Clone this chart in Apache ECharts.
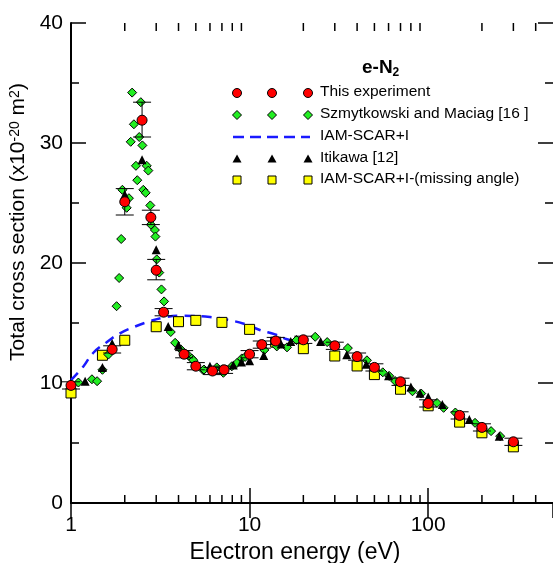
<!DOCTYPE html>
<html><head><meta charset="utf-8">
<script src="https://cdn.jsdelivr.net/npm/echarts@6/dist/echarts.min.js"></script>
<style>html,body{margin:0;padding:0;background:#fff}#c{width:553px;height:563px}</style>
</head><body><div id="c"></div>
<script>
// This experiment (red circles) with error bars
const expE  = [1.0, 1.7, 2.0, 2.5, 2.8, 3.0, 3.3, 4.3, 5.0, 6.2, 7.2, 10, 11.7, 14, 20, 30, 40, 50, 70, 100, 150, 200, 300];
const expS  = [9.8, 12.8, 25.1, 31.9, 23.8, 19.4, 15.9, 12.4, 11.4, 11.0, 11.1, 12.4, 13.2, 13.5, 13.6, 13.1, 12.2, 11.3, 10.1, 8.3, 7.3, 6.3, 5.1];
const expLo = [9.5, 12.5, 24.0, 30.5, 23.2, 18.6, 15.6, 12.1, 11.1, 10.7, 10.8, 12.1, 12.9, 13.2, 13.3, 12.8, 11.9, 11.0, 9.8, 8.0, 7.0, 6.0, 4.8];
const expHi = [10.1, 13.1, 26.2, 33.4, 24.4, 20.3, 16.2, 12.7, 11.7, 11.3, 11.4, 12.7, 13.5, 13.8, 13.9, 13.4, 12.5, 11.6, 10.4, 8.6, 7.6, 6.6, 5.4];

// Szmytkowski and Maciag [16] (green diamonds)
const szE = [1.1, 1.31, 1.4, 1.5, 1.62, 1.8, 1.86, 1.91, 1.94, 2.05, 2.11, 2.16, 2.2, 2.25, 2.31, 2.35, 2.41, 2.46, 2.51, 2.54, 2.62, 2.655, 2.71, 2.78, 2.8, 2.95, 2.97, 3.02, 3.12, 3.21, 3.32, 3.62, 3.83, 4.12, 4.54, 4.75, 4.84, 5.51, 5.56, 6.55, 7.04, 7.13, 7.95, 8.5, 9.05, 9.44, 12.1, 14.2, 16.2, 18.3, 23.3, 27.2, 35.5, 45.4, 55.7, 60.5, 65.3, 81.7, 91.4, 112, 122, 142, 183, 225, 253];
const szS = [10.04, 10.31, 10.15, 11.1, 12.37, 16.4, 18.75, 22.0, 26.1, 24.6, 25.4, 30.1, 34.2, 31.56, 28.1, 26.9, 30.5, 33.4, 29.8, 26.1, 25.85, 28.1, 27.7, 24.8, 23.2, 22.75, 22.2, 20.3, 19.2, 17.8, 16.8, 14.25, 13.35, 12.8, 12.3, 12.03, 11.9, 11.06, 11.12, 11.3, 11.14, 10.85, 11.39, 11.67, 12.05, 12.17, 12.75, 13.05, 12.97, 13.58, 13.85, 13.41, 12.91, 11.89, 10.89, 10.59, 10.17, 9.31, 9.12, 8.34, 7.93, 7.54, 6.68, 5.99, 5.57];

// Itikawa [12] (black triangles)
const itE = [1.2, 1.5, 1.7, 2.0, 2.5, 3.0, 3.5, 4.0, 6.0, 8.1, 9.0, 10, 12, 15, 17, 25, 35, 45, 60, 80, 90, 100, 120, 170, 250];
const itS = [10.15, 11.3, 13.3, 25.7, 28.6, 21.1, 14.7, 13.15, 11.39, 11.5, 11.75, 11.85, 12.3, 13.25, 13.45, 13.45, 12.35, 11.56, 10.6, 9.67, 9.15, 8.84, 8.21, 6.96, 5.57];

// IAM-SCAR+I (blue dashed)
const iamE = [1.0, 1.17, 1.33, 1.57, 1.88, 2.28, 2.71, 3.29, 4.08, 4.84, 6.0, 7.8, 9.44, 11.5, 13.9, 16.2, 18];
const iamS = [10.25, 11.36, 12.5, 13.36, 14.14, 14.7, 15.1, 15.45, 15.6, 15.58, 15.5, 15.22, 14.9, 14.4, 14.05, 13.65, 13.5];

// IAM-SCAR+I-(missing angle) (yellow squares)
const missE = [1, 1.5, 2, 3, 4, 5, 7, 10, 14, 20, 30, 40, 50, 70, 100, 150, 200, 300];
const missS = [9.17, 12.31, 13.56, 14.69, 15.11, 15.22, 15.05, 14.47, 13.4, 12.86, 12.25, 11.42, 10.7, 9.48, 8.1, 6.74, 5.85, 4.68];

// minor tick positions of the log energy axis
const xMinorTicks = [2,3,4,5,6,7,8,9,20,30,40,50,60,70,80,90,200,300,400];

const legendNames = ['This experiment', 'Szmytkowski and Maciag [16 ]', 'IAM-SCAR+I', 'Itikawa [12]', 'IAM-SCAR+I-(missing angle)'];

const FONT = '"Liberation Sans", Arial, sans-serif';
const zip = (a, b) => a.map((v, i) => [v, b[i]]);

const chart = echarts.init(document.getElementById('c'), null, {renderer: 'canvas'});

const axisLineStyle = {color: '#000', width: 2};
const xCommon = {
  type: 'log', logBase: 10, min: 1, max: 500,
  axisLine: {show: true, lineStyle: axisLineStyle},
  axisTick: {show: true, inside: true, length: 15, lineStyle: {color: '#000', width: 1.5}},
  minorTick: {show: false},
  splitLine: {show: false}, minorSplitLine: {show: false}
};
const yCommon = {
  type: 'value', min: 0, max: 40, interval: 10,
  axisTick: {show: true, inside: true, length: 15, lineStyle: {color: '#000', width: 1.5}},
  minorTick: {show: true, splitNumber: 2, length: 8, lineStyle: {color: '#000', width: 1.5}},
  splitLine: {show: false}, minorSplitLine: {show: false}
};

// legend graphics
const lgY = [93, 115, 137, 159, 180];
const lgX = [237, 272, 308];
const g = [];
g.push({type: 'text', left: 362, top: 58, style: {
  text: '{b|e-N}{s|2}', rich: {
    b: {fontFamily: FONT, fontWeight: 'bold', fontSize: 19, fill: '#000', lineHeight: 22},
    s: {fontFamily: FONT, fontWeight: 'bold', fontSize: 12, fill: '#000', verticalAlign: 'bottom', lineHeight: 14}
  }}});
lgX.forEach(x => {
  g.push({type: 'circle', shape: {cx: x, cy: lgY[0], r: 4.5}, style: {fill: '#ff0000', stroke: '#000', lineWidth: 1}});
  g.push({type: 'polygon', shape: {points: [[x, lgY[1]-4.5], [x+4.5, lgY[1]], [x, lgY[1]+4.5], [x-4.5, lgY[1]]]}, style: {fill: '#22ee22', stroke: '#000', lineWidth: 1}});
  g.push({type: 'polygon', shape: {points: [[x, lgY[3]-4.5], [x+4.5, lgY[3]+3.5], [x-4.5, lgY[3]+3.5]]}, style: {fill: '#000'}});
  g.push({type: 'rect', shape: {x: x-4, y: lgY[4]-4, width: 8, height: 8}, style: {fill: '#ffff00', stroke: '#000', lineWidth: 1}});
});
g.push({type: 'line', shape: {x1: 233, y1: lgY[2], x2: 310, y2: lgY[2]}, style: {stroke: '#1a1aff', lineWidth: 2.5, lineDash: [11, 6]}});
legendNames.forEach((t, i) => {
  g.push({type: 'text', left: 320, top: lgY[i] - 9, style: {text: t, fontFamily: FONT, fontSize: 15.5, fill: '#000'}});
});

chart.setOption({
  animation: false,
  backgroundColor: '#fff',
  grid: {left: 71, right: 0, top: 23, bottom: 60, containLabel: false, outerBoundsMode: 'none'},
  xAxis: [
    Object.assign({}, xCommon, {
      position: 'bottom',
      axisLabel: {show: true, fontSize: 21, color: '#000', fontFamily: FONT, margin: 12, showMaxLabel: false},
      name: 'Electron energy (eV)', nameLocation: 'middle', nameGap: 34,
      nameTextStyle: {fontSize: 23, color: '#000', fontFamily: FONT, padding: [0, 34, 0, 0]}
    }),
    Object.assign({}, xCommon, {position: 'top', axisLabel: {show: false}})
  ],
  yAxis: [
    Object.assign({}, yCommon, {
      position: 'left',
      axisLine: {show: true, lineStyle: axisLineStyle},
      axisLabel: {show: true, fontSize: 21, color: '#000', fontFamily: FONT, margin: 8},
      name: 'Total cross section (x10{sup|-20} m{sup|2})', nameLocation: 'middle', nameGap: 32,
      nameTextStyle: {fontSize: 21, color: '#000', fontFamily: FONT, padding: [0, 0, 0, 82],
        rich: {
          sup: {fontSize: 14, fontFamily: FONT, color: '#000', verticalAlign: 'top', lineHeight: 14, padding: 0}
        }}
    }),
    Object.assign({}, yCommon, {
      position: 'right',
      axisLine: {show: false},
      axisLabel: {show: false}
    })
  ],
  graphic: g,
  series: [
    {
      type: 'custom', name: 'minorTicks', xAxisIndex: 0, yAxisIndex: 0, silent: true, clip: false, z: 1,
      data: xMinorTicks.map(v => [v, 0]),
      renderItem: (params, api) => {
        const v = api.value(0);
        const p0 = api.coord([v, 0]);
        const p1 = api.coord([v, 40]);
        const st = {stroke: '#000', lineWidth: 1.5};
        return {type: 'group', children: [
          {type: 'line', shape: {x1: p0[0], y1: p0[1], x2: p0[0], y2: p0[1] - 8}, style: st},
          {type: 'line', shape: {x1: p1[0], y1: p1[1], x2: p1[0], y2: p1[1] + 8}, style: st}
        ]};
      }
    },
    {
      type: 'line', name: 'IAM-SCAR+I', data: zip(iamE, iamS), smooth: true, symbol: 'none', z: 2,
      lineStyle: {color: '#1a1aff', width: 2.5, type: [10, 7]}
    },
    {
      type: 'scatter', name: 'IAM-SCAR+I-(missing angle)', data: zip(missE, missS), symbol: 'rect', symbolSize: 10, z: 3,
      itemStyle: {color: '#ffff00', borderColor: '#000', borderWidth: 1, opacity: 1}
    },
    {
      type: 'scatter', name: 'Szmytkowski and Maciag [16 ]', data: zip(szE, szS), symbol: 'diamond', symbolSize: 9, z: 4,
      itemStyle: {color: '#22ee22', borderColor: '#000', borderWidth: 1, opacity: 1}
    },
    {
      type: 'scatter', name: 'Itikawa [12]', data: zip(itE, itS), symbol: 'triangle', symbolSize: 9, z: 5,
      itemStyle: {color: '#000', opacity: 1}
    },
    {
      type: 'custom', name: 'errorbars', silent: true, z: 6,
      data: expE.map((e, i) => [e, expLo[i], expHi[i]]),
      renderItem: (params, api) => {
        const x = api.value(0);
        const lo = api.coord([x, api.value(1)]);
        const hi = api.coord([x, api.value(2)]);
        const st = {stroke: '#000', lineWidth: 1};
        const w = 9;
        return {type: 'group', children: [
          {type: 'line', shape: {x1: lo[0], y1: lo[1], x2: hi[0], y2: hi[1]}, style: st},
          {type: 'line', shape: {x1: lo[0] - w, y1: lo[1], x2: lo[0] + w, y2: lo[1]}, style: st},
          {type: 'line', shape: {x1: hi[0] - w, y1: hi[1], x2: hi[0] + w, y2: hi[1]}, style: st}
        ]};
      }
    },
    {
      type: 'scatter', name: 'This experiment', data: zip(expE, expS), symbol: 'circle', symbolSize: 10, z: 7,
      itemStyle: {color: '#ff0000', borderColor: '#000', borderWidth: 1, opacity: 1}
    }
  ]
});
</script>
</body></html>
